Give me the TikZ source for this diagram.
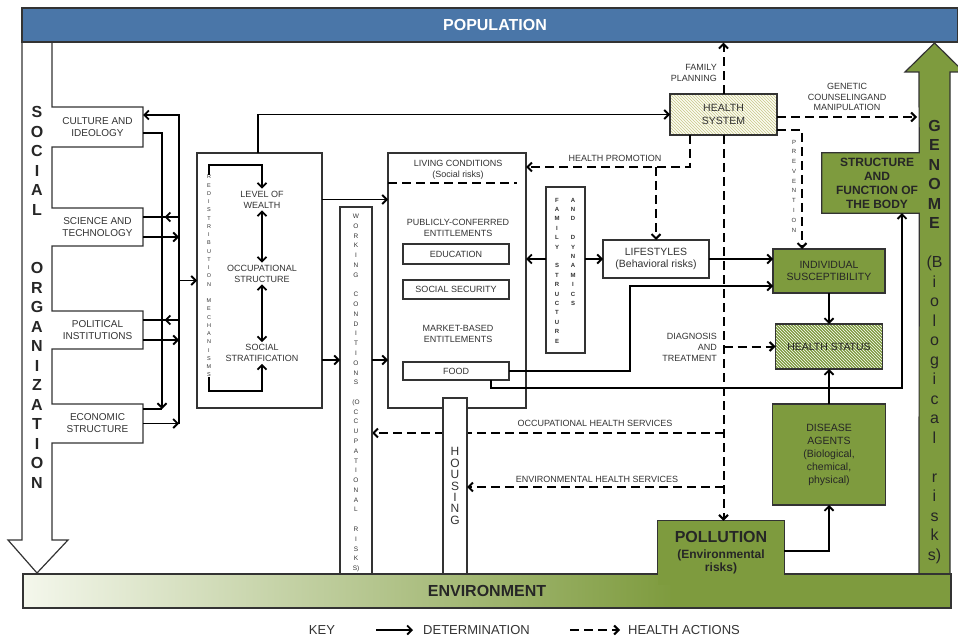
\documentclass[tikz,border=0pt]{standalone}
\usepackage{fontspec}
\setmainfont{Liberation Sans}
\usepackage{xcolor}
\usetikzlibrary{arrows.meta, patterns, decorations.markings}

\definecolor{popblue}{HTML}{4A76A8}
\definecolor{boxgreen}{HTML}{7E9B3E}
\definecolor{envlight}{HTML}{F4F7EC}
\definecolor{ink}{HTML}{333333}
\definecolor{sysfill}{HTML}{FCFCF2}
\definecolor{hatch}{HTML}{C8C888}
\pgfdeclarehorizontalshading{envshade}{100bp}{color(0bp)=(envlight); color(25bp)=(envlight); color(60bp)=(boxgreen); color(100bp)=(boxgreen)}
\pgfdeclarelayer{back}
\pgfsetlayers{back,main}
\newcommand{\myfs}[2]{\fontsize{#1}{#2}\selectfont}

\begin{document}
\begin{tikzpicture}[x=1pt, y=-1pt, >={Straight Barb[length=4.5pt, width=9pt]},
  box/.style={draw=ink, fill=white, line width=1.1pt, inner sep=0pt, outer sep=0pt, align=center, text=ink, font=\myfs{9}{11}},
  tab/.style={inner sep=0pt, outer sep=0pt, minimum width=91pt, align=center, text=ink, font=\myfs{10}{12}},
  gbox/.style={box, fill=boxgreen, text=black!85, font=\myfs{10.5}{11.5}},
  lbl/.style={align=center, text=ink, inner sep=2pt, font=\myfs{9}{11}},
  vlbl/.style={align=center, text=ink, inner sep=0pt},
  keytxt/.style={inner sep=0pt, text=ink, font=\myfs{13}{15}},
  det/.style={draw=black, line width=1.8pt, ->},
  detmid/.style={draw=black, line width=1.8pt, postaction=decorate,
    decoration={markings, mark=at position 0.4 with {\arrow{>}}}},
  hact/.style={draw=black, line width=2pt, dash pattern=on 9pt off 5pt, ->},
  band/.style={draw=ink, line width=1.2pt, inner sep=0pt, minimum height=34pt, font=\bfseries\myfs{16}{19}}]
\useasboundingbox (0,0) rectangle (958,639);

% Bands
\node[band, fill=popblue, text=white, minimum width=936pt] (pop) at (490,25) {\hspace*{10pt}POPULATION};
\node[band, shading=envshade, text=black!85, minimum width=928pt] (env) at (487,591) {ENVIRONMENT};

% Social organization
\node[tab, minimum height=40pt] (culture) at (97.5,127) {CULTURE AND\\IDEOLOGY};
\node[tab, minimum height=38pt] (science) at (97.5,227) {SCIENCE AND\\TECHNOLOGY};
\node[tab, minimum height=38pt] (political) at (97.5,330) {POLITICAL\\INSTITUTIONS};
\node[tab, minimum height=39pt] (economic) at (97.5,423.5) {ECONOMIC\\STRUCTURE};
\node[vlbl, font=\bfseries\myfs{16}{19.5}, text=black!85] (social) at (37,297.25)
  {S\\O\\C\\I\\A\\L\\\mbox{}\\\mbox{}\\O\\R\\G\\A\\N\\I\\Z\\A\\T\\I\\O\\N};

% Genome
\node[vlbl, font=\bfseries\myfs{12}{14}, text=black!85, minimum width=84pt, minimum height=60pt] (structure) at (877,183)
  {STRUCTURE\\AND\\FUNCTION OF\\THE BODY};
\node[vlbl, font=\myfs{16}{19.5}, text=black!85] (genome) at (934.5,342)
  {\textbf{G}\\\textbf{E}\\\textbf{N}\\\textbf{O}\\\textbf{M}\\\textbf{E}\\\mbox{}\\(B\\i\\o\\l\\o\\g\\i\\c\\a\\l\\\mbox{}\\r\\i\\s\\k\\s)};

% Redistribution
\node[box, minimum width=125pt, minimum height=255pt] (redist) at (259.5,280.5) {};
\node[vlbl, font=\myfs{5.5}{8.25}] (redistlabel) at (209,276)
  {R\\E\\D\\I\\S\\T\\R\\I\\B\\U\\T\\I\\O\\N\\\mbox{}\\M\\E\\C\\H\\A\\N\\I\\S\\M\\S};
\node[lbl] (wealth) at (262,199.5) {LEVEL OF\\WEALTH};
\node[lbl] (occup) at (262,273.5) {OCCUPATIONAL\\STRUCTURE};
\node[lbl] (strat) at (262,353) {SOCIAL\\STRATIFICATION};

% Working conditions
\node[box, minimum width=32pt, minimum height=367pt] (working) at (356,390.5) {};
\node[vlbl, font=\myfs{6.5}{9.78}] (worklabel) at (356,393)
  {W\\O\\R\\K\\I\\N\\G\\\mbox{}\\C\\O\\N\\D\\I\\T\\I\\O\\N\\S\\\mbox{}\\(O\\C\\C\\U\\P\\A\\T\\I\\O\\N\\A\\L\\\mbox{}\\R\\I\\S\\K\\S)};

% Living conditions
\node[box, minimum width=138pt, minimum height=255pt] (living) at (457,280.5) {};
\node[lbl] (livingtitle) at (458,170) {LIVING CONDITIONS\\(Social risks)};
\draw[draw=black, line width=2pt, dash pattern=on 9pt off 5pt] ([yshift=-30pt]living.north west) -- ++(129,0);
\node[lbl] (public) at (458,227.5) {PUBLICLY-CONFERRED\\ENTITLEMENTS};
\node[box, minimum width=106pt, minimum height=20pt] (education) at (456,254) {EDUCATION};
\node[box, minimum width=106pt, minimum height=19pt] (socsec) at (456,289.5) {SOCIAL SECURITY};
\node[lbl] (market) at (458,333.5) {MARKET-BASED\\ENTITLEMENTS};
\node[box, minimum width=106pt, minimum height=18pt] (food) at (456,371) {FOOD};
\node[box, font=\myfs{12}{11.4}, minimum width=24pt, minimum height=176pt] (housing) at (455,486) {H\\O\\U\\S\\I\\N\\G};

% Family
\node[box, minimum width=39pt, minimum height=166pt] (family) at (565.5,270) {};
\node[vlbl, font=\bfseries\myfs{6}{9.4}] (familyleft) at (557,270.5)
  {F\\A\\M\\I\\L\\Y\\\mbox{}\\S\\T\\R\\U\\C\\T\\U\\R\\E};
\node[vlbl, font=\bfseries\myfs{6}{9.4}] (familyright) at (573,251.7)
  {A\\N\\D\\\mbox{}\\D\\Y\\N\\A\\M\\I\\C\\S};

% Health side
\node[box, font=\myfs{10.5}{12}, minimum width=106pt, minimum height=38pt] (lifestyles) at (656,259) {LIFESTYLES\\(Behavioral risks)};
\node[box, font=\myfs{10.5}{12.5}, minimum width=107pt, minimum height=41pt,
  preaction={fill=sysfill}, pattern=north west lines, pattern color=hatch] (healthsys) at (723.5,114.5) {HEALTH\\SYSTEM};
\node[gbox, minimum width=112pt, minimum height=44pt] (indiv) at (829,271) {INDIVIDUAL\\SUSCEPTIBILITY};
\node[gbox, minimum width=107pt, minimum height=45pt, preaction={fill=boxgreen},
  pattern=north west lines, pattern color=white] (status) at (829,346.5) {HEALTH STATUS};
\node[gbox, font=\myfs{10.5}{13}, minimum width=113pt, minimum height=101pt] (disease) at (829,454.5)
  {DISEASE\\AGENTS\\(Biological,\\chemical,\\physical)};
\node[vlbl, fill=boxgreen, minimum width=126pt, minimum height=64pt, font=\bfseries\myfs{12}{13}, text=black!85] (pollution) at (721,553)
  {{\myfs{16}{18}POLLUTION}\\[3pt](Environmental\\risks)};
\draw[draw=ink, line width=1.1pt] ([yshift=-53pt]pollution.north west) -- (pollution.north west)
  -- (pollution.north east) -- ([yshift=-53pt]pollution.north east);

% Outlines of the two big arrows
\begin{pgfonlayer}{back}
\draw[draw=ink, fill=white, line width=1.2pt] (22,42) -- (22,540) -- (8,540) -- (37,573) -- (68,540) -- (52,540)
  -- (economic.south west) -- (economic.south east) -- (economic.north east) -- (economic.north west)
  -- (political.south west) -- (political.south east) -- (political.north east) -- (political.north west)
  -- (science.south west) -- (science.south east) -- (science.north east) -- (science.north west)
  -- (culture.south west) -- (culture.south east) -- (culture.north east) -- (culture.north west) -- (52,42);
\draw[draw=ink, fill=boxgreen, line width=1.2pt] (919,574) -- (structure.south east)
  -- ([xshift=-13pt]structure.south west) -- ([xshift=-13pt]structure.north west)
  -- (structure.north east) -- (919,72) -- (905,72) -- (934.5,43) -- (964,72) -- (950,72) -- (950,574);
\end{pgfonlayer}

% Determination
\coordinate (busdown) at (162,409);
\coordinate (busup) at (179,423.5);
\draw[det] ([yshift=-6pt]culture.east) -| (busdown);
\draw[draw=black, line width=1.8pt] ([yshift=14.5pt]economic.east) -- (busdown);
\draw[det] (economic.east) -- (busup);
\draw[det] (busup) |- ([yshift=12pt]culture.east);
\foreach \t in {science, political} {
  \coordinate (in) at ([yshift=10pt]\t.east);
  \coordinate (out) at ([yshift=-10pt]\t.east);
  \draw[detmid] (busup |- in) -- (in);
  \draw[det] (out) -- (busup |- out);
}
\draw[det] (busup |- redist.west) -- (redist.west);
\draw[det] (redistlabel.north) -- ++(0,-10) -| (wealth.north);
\draw[det] (redistlabel.south) -- ++(0,14) -| (strat.south);
\draw[det, <->] (wealth) -- (occup);
\draw[det, <->] (occup) -- (strat);
\draw[det] ([xshift=-1.5pt]redist.north) |- (healthsys.west);
\draw[det] (redist.east |- wealth) -- (living.west |- wealth);
\coordinate (lowrow) at (0,360);
\draw[det] (redist.east |- lowrow) -- (working.west |- lowrow);
\draw[det] (working.east |- lowrow) -- (living.west |- lowrow);
\draw[det] (family.west |- lifestyles) -- (living.east |- lifestyles);
\draw[det] (family.east |- lifestyles) -- (lifestyles.west);
\draw[det] (lifestyles.east) -- (indiv.west |- lifestyles.east);
\draw[det] (food.east) -- ++(121,0) |- ([yshift=-15pt]indiv.west);
\draw[det] ([xshift=35pt]food.south) -- ++(0,8) -| ([xshift=25pt]structure.south);
\draw[det] (indiv) -- (status);
\draw[det] (disease) -- (status);
\draw[det] ([yshift=2pt]pollution.east) -| (disease.south);

% Health actions
\draw[hact] (healthsys.north) -- (healthsys.north |- pop.south);
\node[lbl, align=right, anchor=east] (famplan) at (719,72.5) {FAMILY\\PLANNING};
\coordinate (genomeside) at (917,117);
\draw[hact] (healthsys.east |- genomeside) -- (genomeside);
\node[lbl, font=\myfs{9}{10.5}] (genetic) at (847,97) {GENETIC\\COUNSELINGAND\\MANIPULATION};
\draw[hact] ([yshift=-15.5pt]healthsys.east) -| ([xshift=-27pt]indiv.north);
\node[vlbl, font=\myfs{6}{9.78}] (preventlabel) at (794,186) {P\\R\\E\\V\\E\\N\\T\\I\\O\\N};
\coordinate (promojoin) at (656,167);
\draw[hact] ([xshift=-33.5pt]healthsys.south) |- (living.east |- promojoin);
\draw[hact] (promojoin) -- (lifestyles.north);
\node[lbl] (promolabel) at (615,158) {HEALTH PROMOTION};
\draw[hact] (healthsys.south) -- (healthsys.south |- pollution.north);
\draw[hact] (healthsys.south |- status.west) -- (status.west);
\node[lbl, align=right, anchor=east] (diagnosis) at (719,347) {DIAGNOSIS\\AND\\TREATMENT};
\coordinate (occrow) at (0,433);
\begin{pgfonlayer}{back}
\draw[hact] (healthsys.south |- occrow) -- (working.east |- occrow);
\end{pgfonlayer}
\node[lbl] (occlabel) at (595,423) {OCCUPATIONAL HEALTH SERVICES};
\coordinate (envrow) at (0,487);
\draw[hact] (healthsys.south |- envrow) -- (housing.east |- envrow);
\node[lbl] (envlabel) at (597,479) {ENVIRONMENTAL HEALTH SERVICES};

% Key
\node[keytxt] (key) at (322,630) {KEY};
\node[keytxt, anchor=west] (determ) at (423,630) {DETERMINATION};
\node[keytxt, anchor=west] (hactions) at (628,630) {HEALTH ACTIONS};
\draw[det] ([xshift=-47pt]determ.west) -- ([xshift=-10pt]determ.west);
\draw[hact] ([xshift=-58pt]hactions.west) -- ([xshift=-8pt]hactions.west);
\end{tikzpicture}
\end{document}
